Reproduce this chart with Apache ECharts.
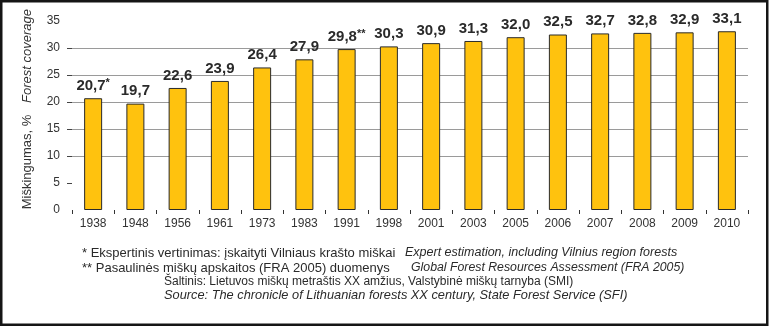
<!DOCTYPE html>
<html>
<head>
<meta charset="utf-8">
<script src="https://cdn.jsdelivr.net/npm/echarts@6/dist/echarts.min.js"></script>
<style>
html,body{margin:0;padding:0;background:#fff;}
#chart{width:769px;height:327px;}
</style>
</head>
<body>
<div id="chart"></div>
<script>
const years = ['1938','1948','1956','1961','1973','1983','1991','1998','2001','2003','2005','2006','2007','2008','2009','2010'];
const coverage = [20.7,19.7,22.6,23.9,26.4,27.9,29.8,30.3,30.9,31.3,32.0,32.5,32.7,32.8,32.9,33.1];
const notes = ['*','','','','','','**','','','','','','','','',''];
const yTicks = [5,10,15,20,25,30];
const yAxisNameLt = 'Miškingumas, %';
const yAxisNameEn = 'Forest coverage';
const footLt = ['* Ekspertinis vertinimas: įskaityti Vilniaus krašto miškai','** Pasaulinės miškų apskaitos (FRA 2005) duomenys'];
const footEn = ['Expert estimation, including Vilnius region forests','Global Forest Resources Assessment (FRA 2005)'];
const sourceLt = 'Šaltinis: Lietuvos miškų metraštis XX amžius, Valstybinė miškų tarnyba (SMI)';
const sourceEn = 'Source: The chronicle of Lithuanian forests XX century, State Forest Service (SFI)';

const FONT = 'Liberation Sans, Arial, sans-serif';
const chart = echarts.init(document.getElementById('chart'));
const txt = '#2a2a2a';

function note(x, y, text, size, italic) {
  return {type: 'text', x: x, y: y, style: {text: text, fontSize: size, fontStyle: italic ? 'italic' : 'normal', fontFamily: FONT, fill: txt, textVerticalAlign: 'middle'}};
}

chart.setOption({
  animation: false,
  backgroundColor: '#fff',
  grid: {left: 72, right: 21, top: 21, bottom: 117, containLabel: false},
  xAxis: {
    type: 'category',
    data: years,
    axisLine: {show: false},
    axisTick: {show: true, alignWithLabel: false, length: 4, lineStyle: {color: '#333', width: 1}},
    axisLabel: {fontSize: 12, color: '#333', margin: 8, fontFamily: FONT}
  },
  yAxis: {
    type: 'value',
    min: 0, max: 35, interval: 5,
    axisLine: {show: false},
    axisTick: {show: true, length: 5, customValues: yTicks, lineStyle: {color: '#444'}},
    axisLabel: {fontSize: 12, color: '#333', margin: 12, fontFamily: FONT},
    splitLine: {show: true, lineStyle: {color: ['rgba(0,0,0,0)','#9a9a9a','#9a9a9a','#9a9a9a','#9a9a9a','#9a9a9a','#9a9a9a','rgba(0,0,0,0)'], width: 1}}
  },
  series: [{
    type: 'bar',
    data: coverage,
    barWidth: 18,
    itemStyle: {color: '#FFC20E', borderColor: '#2a2a2a', borderWidth: 1},
    label: {
      show: true,
      position: 'top',
      distance: 4,
      formatter: p => '{v|' + p.value.toFixed(1).replace('.', ',') + '}' + (notes[p.dataIndex] ? '{s|' + notes[p.dataIndex] + '}' : ''),
      rich: {
        v: {fontSize: 15, fontWeight: 'bold', color: txt, fontFamily: FONT, lineHeight: 17},
        s: {fontSize: 11, fontWeight: 'bold', color: txt, fontFamily: FONT, lineHeight: 11, verticalAlign: 'top'}
      }
    }
  }],
  graphic: [
    {type: 'rect', shape: {x: 1.25, y: 1.25, width: 766, height: 323.5}, style: {fill: 'none', stroke: '#151515', lineWidth: 2.5}, z: 100},
    {type: 'text', x: 27, y: 162, rotation: Math.PI / 2, style: {text: yAxisNameLt, fontSize: 13, fontFamily: FONT, fill: '#333', textAlign: 'center', textVerticalAlign: 'middle'}},
    {type: 'text', x: 27, y: 56, rotation: Math.PI / 2, style: {text: yAxisNameEn, fontSize: 13, fontStyle: 'italic', fontFamily: FONT, fill: '#333', textAlign: 'center', textVerticalAlign: 'middle'}},
    note(82, 253, footLt[0], 13, false),
    note(405, 253, footEn[0], 12.5, true),
    note(82, 268, footLt[1], 13, false),
    note(411, 268, footEn[1], 12.3, true),
    note(164, 282, sourceLt, 12, false),
    note(164, 295, sourceEn, 12.8, true)
  ]
});
</script>
</body>
</html>
